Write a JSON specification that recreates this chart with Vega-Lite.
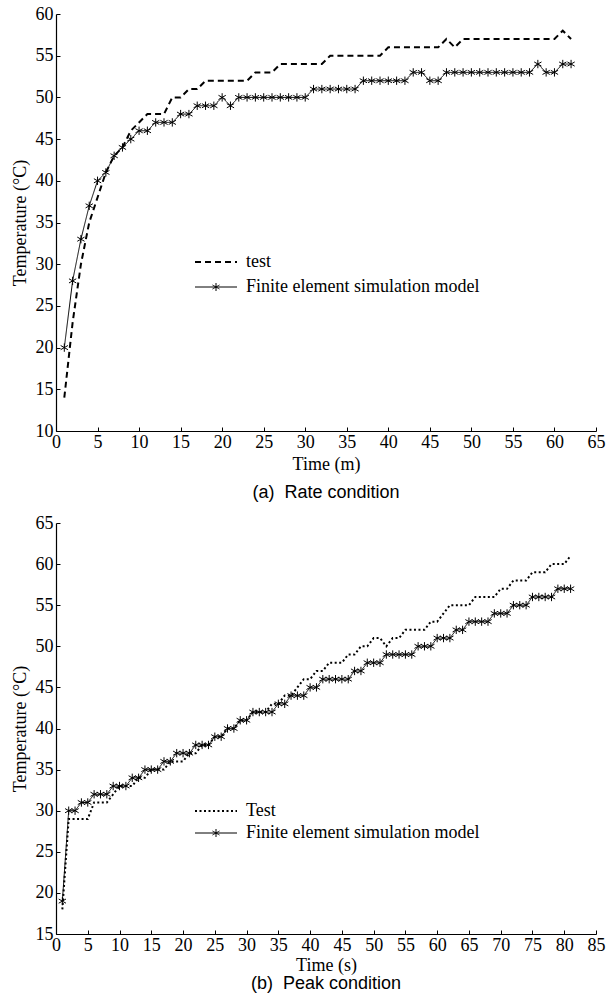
{
  "$schema": "https://vega.github.io/schema/vega-lite/v6.json",
  "padding": {"left": 11, "top": 5, "right": 4, "bottom": 2},
  "spacing": 12,
  "resolve": {"scale": {"strokeDash": "independent"}, "legend": {"strokeDash": "independent"}},
  "config": {
    "view": {"stroke": null},
    "font": "Liberation Serif",
    "axis": {
      "domainColor": "#000", "tickColor": "#000", "labelColor": "#000", "titleColor": "#000",
      "labelFont": "Liberation Serif", "titleFont": "Liberation Serif",
      "labelFontSize": 18, "titleFontSize": 18, "titleFontWeight": "normal", "labelFlush": false,
      "grid": false, "tickSize": -4, "domainWidth": 1.2, "tickWidth": 1
    },
    "axisX": {"labelPadding": 6},
    "axisY": {"labelPadding": 7},
    "title": {"font": "Liberation Sans", "fontSize": 18, "fontWeight": "normal", "color": "#000", "orient": "bottom", "anchor": "middle"},
    "legend": {
      "orient": "none", "title": null, "labelFont": "Liberation Serif", "labelFontSize": 18, "labelColor": "#000", "labelLimit": 0,
      "symbolSize": 100, "labelOffset": 21, "padding": 0, "symbolStrokeColor": "#000"
    }
  },
  "datasets": {
    "top": [
      {"t":1,"v":14,"s":"test"},{"t":2,"v":23,"s":"test"},{"t":3,"v":30,"s":"test"},{"t":4,"v":35,"s":"test"},{"t":5,"v":38,"s":"test"},
      {"t":6,"v":41,"s":"test"},{"t":7,"v":43,"s":"test"},{"t":8,"v":44,"s":"test"},{"t":9,"v":46,"s":"test"},{"t":10,"v":47,"s":"test"},
      {"t":11,"v":48,"s":"test"},{"t":12,"v":48,"s":"test"},{"t":13,"v":48,"s":"test"},{"t":14,"v":50,"s":"test"},{"t":15,"v":50,"s":"test"},
      {"t":16,"v":51,"s":"test"},{"t":17,"v":51,"s":"test"},{"t":18,"v":52,"s":"test"},{"t":19,"v":52,"s":"test"},{"t":20,"v":52,"s":"test"},
      {"t":21,"v":52,"s":"test"},{"t":22,"v":52,"s":"test"},{"t":23,"v":52,"s":"test"},{"t":24,"v":53,"s":"test"},{"t":25,"v":53,"s":"test"},
      {"t":26,"v":53,"s":"test"},{"t":27,"v":54,"s":"test"},{"t":28,"v":54,"s":"test"},{"t":29,"v":54,"s":"test"},{"t":30,"v":54,"s":"test"},
      {"t":31,"v":54,"s":"test"},{"t":32,"v":54,"s":"test"},{"t":33,"v":55,"s":"test"},{"t":34,"v":55,"s":"test"},{"t":35,"v":55,"s":"test"},
      {"t":36,"v":55,"s":"test"},{"t":37,"v":55,"s":"test"},{"t":38,"v":55,"s":"test"},{"t":39,"v":55,"s":"test"},{"t":40,"v":56,"s":"test"},
      {"t":41,"v":56,"s":"test"},{"t":42,"v":56,"s":"test"},{"t":43,"v":56,"s":"test"},{"t":44,"v":56,"s":"test"},{"t":45,"v":56,"s":"test"},
      {"t":46,"v":56,"s":"test"},{"t":47,"v":57,"s":"test"},{"t":48,"v":56,"s":"test"},{"t":49,"v":57,"s":"test"},{"t":50,"v":57,"s":"test"},
      {"t":51,"v":57,"s":"test"},{"t":52,"v":57,"s":"test"},{"t":53,"v":57,"s":"test"},{"t":54,"v":57,"s":"test"},{"t":55,"v":57,"s":"test"},
      {"t":56,"v":57,"s":"test"},{"t":57,"v":57,"s":"test"},{"t":58,"v":57,"s":"test"},{"t":59,"v":57,"s":"test"},{"t":60,"v":57,"s":"test"},
      {"t":61,"v":58,"s":"test"},{"t":62,"v":57,"s":"test"},
      {"t":1,"v":20,"s":"Finite element simulation model"},{"t":2,"v":28,"s":"Finite element simulation model"},{"t":3,"v":33,"s":"Finite element simulation model"},
      {"t":4,"v":37,"s":"Finite element simulation model"},{"t":5,"v":40,"s":"Finite element simulation model"},{"t":6,"v":41,"s":"Finite element simulation model"},
      {"t":7,"v":43,"s":"Finite element simulation model"},{"t":8,"v":44,"s":"Finite element simulation model"},{"t":9,"v":45,"s":"Finite element simulation model"},
      {"t":10,"v":46,"s":"Finite element simulation model"},{"t":11,"v":46,"s":"Finite element simulation model"},{"t":12,"v":47,"s":"Finite element simulation model"},
      {"t":13,"v":47,"s":"Finite element simulation model"},{"t":14,"v":47,"s":"Finite element simulation model"},{"t":15,"v":48,"s":"Finite element simulation model"},
      {"t":16,"v":48,"s":"Finite element simulation model"},{"t":17,"v":49,"s":"Finite element simulation model"},{"t":18,"v":49,"s":"Finite element simulation model"},
      {"t":19,"v":49,"s":"Finite element simulation model"},{"t":20,"v":50,"s":"Finite element simulation model"},{"t":21,"v":49,"s":"Finite element simulation model"},
      {"t":22,"v":50,"s":"Finite element simulation model"},{"t":23,"v":50,"s":"Finite element simulation model"},{"t":24,"v":50,"s":"Finite element simulation model"},
      {"t":25,"v":50,"s":"Finite element simulation model"},{"t":26,"v":50,"s":"Finite element simulation model"},{"t":27,"v":50,"s":"Finite element simulation model"},
      {"t":28,"v":50,"s":"Finite element simulation model"},{"t":29,"v":50,"s":"Finite element simulation model"},{"t":30,"v":50,"s":"Finite element simulation model"},
      {"t":31,"v":51,"s":"Finite element simulation model"},{"t":32,"v":51,"s":"Finite element simulation model"},{"t":33,"v":51,"s":"Finite element simulation model"},
      {"t":34,"v":51,"s":"Finite element simulation model"},{"t":35,"v":51,"s":"Finite element simulation model"},{"t":36,"v":51,"s":"Finite element simulation model"},
      {"t":37,"v":52,"s":"Finite element simulation model"},{"t":38,"v":52,"s":"Finite element simulation model"},{"t":39,"v":52,"s":"Finite element simulation model"},
      {"t":40,"v":52,"s":"Finite element simulation model"},{"t":41,"v":52,"s":"Finite element simulation model"},{"t":42,"v":52,"s":"Finite element simulation model"},
      {"t":43,"v":53,"s":"Finite element simulation model"},{"t":44,"v":53,"s":"Finite element simulation model"},{"t":45,"v":52,"s":"Finite element simulation model"},
      {"t":46,"v":52,"s":"Finite element simulation model"},{"t":47,"v":53,"s":"Finite element simulation model"},{"t":48,"v":53,"s":"Finite element simulation model"},
      {"t":49,"v":53,"s":"Finite element simulation model"},{"t":50,"v":53,"s":"Finite element simulation model"},{"t":51,"v":53,"s":"Finite element simulation model"},
      {"t":52,"v":53,"s":"Finite element simulation model"},{"t":53,"v":53,"s":"Finite element simulation model"},{"t":54,"v":53,"s":"Finite element simulation model"},
      {"t":55,"v":53,"s":"Finite element simulation model"},{"t":56,"v":53,"s":"Finite element simulation model"},{"t":57,"v":53,"s":"Finite element simulation model"},
      {"t":58,"v":54,"s":"Finite element simulation model"},{"t":59,"v":53,"s":"Finite element simulation model"},{"t":60,"v":53,"s":"Finite element simulation model"},
      {"t":61,"v":54,"s":"Finite element simulation model"},{"t":62,"v":54,"s":"Finite element simulation model"}
    ],
    "bottom": [
      {"t":1,"v":18,"s":"Test"},{"t":2,"v":29,"s":"Test"},{"t":3,"v":29,"s":"Test"},{"t":4,"v":29,"s":"Test"},{"t":5,"v":29,"s":"Test"},
      {"t":6,"v":31,"s":"Test"},{"t":7,"v":31,"s":"Test"},{"t":8,"v":31,"s":"Test"},{"t":9,"v":32,"s":"Test"},{"t":10,"v":33,"s":"Test"},
      {"t":11,"v":33,"s":"Test"},{"t":12,"v":33,"s":"Test"},{"t":13,"v":34,"s":"Test"},{"t":14,"v":34,"s":"Test"},{"t":15,"v":35,"s":"Test"},
      {"t":16,"v":35,"s":"Test"},{"t":17,"v":35,"s":"Test"},{"t":18,"v":36,"s":"Test"},{"t":19,"v":36,"s":"Test"},{"t":20,"v":36,"s":"Test"},
      {"t":21,"v":37,"s":"Test"},{"t":22,"v":37,"s":"Test"},{"t":23,"v":38,"s":"Test"},{"t":24,"v":38,"s":"Test"},{"t":25,"v":39,"s":"Test"},
      {"t":26,"v":39,"s":"Test"},{"t":27,"v":40,"s":"Test"},{"t":28,"v":40,"s":"Test"},{"t":29,"v":41,"s":"Test"},{"t":30,"v":41,"s":"Test"},
      {"t":31,"v":42,"s":"Test"},{"t":32,"v":42,"s":"Test"},{"t":33,"v":42,"s":"Test"},{"t":34,"v":43,"s":"Test"},{"t":35,"v":43,"s":"Test"},
      {"t":36,"v":44,"s":"Test"},{"t":37,"v":44,"s":"Test"},{"t":38,"v":45,"s":"Test"},{"t":39,"v":46,"s":"Test"},{"t":40,"v":46,"s":"Test"},
      {"t":41,"v":47,"s":"Test"},{"t":42,"v":47,"s":"Test"},{"t":43,"v":48,"s":"Test"},{"t":44,"v":48,"s":"Test"},{"t":45,"v":48,"s":"Test"},
      {"t":46,"v":49,"s":"Test"},{"t":47,"v":49,"s":"Test"},{"t":48,"v":50,"s":"Test"},{"t":49,"v":50,"s":"Test"},{"t":50,"v":51,"s":"Test"},
      {"t":51,"v":51,"s":"Test"},{"t":52,"v":50,"s":"Test"},{"t":53,"v":51,"s":"Test"},{"t":54,"v":51,"s":"Test"},{"t":55,"v":52,"s":"Test"},
      {"t":56,"v":52,"s":"Test"},{"t":57,"v":52,"s":"Test"},{"t":58,"v":52,"s":"Test"},{"t":59,"v":53,"s":"Test"},{"t":60,"v":53,"s":"Test"},
      {"t":61,"v":54,"s":"Test"},{"t":62,"v":55,"s":"Test"},{"t":63,"v":55,"s":"Test"},{"t":64,"v":55,"s":"Test"},{"t":65,"v":55,"s":"Test"},
      {"t":66,"v":56,"s":"Test"},{"t":67,"v":56,"s":"Test"},{"t":68,"v":56,"s":"Test"},{"t":69,"v":56,"s":"Test"},{"t":70,"v":57,"s":"Test"},
      {"t":71,"v":57,"s":"Test"},{"t":72,"v":58,"s":"Test"},{"t":73,"v":58,"s":"Test"},{"t":74,"v":58,"s":"Test"},{"t":75,"v":59,"s":"Test"},
      {"t":76,"v":59,"s":"Test"},{"t":77,"v":59,"s":"Test"},{"t":78,"v":60,"s":"Test"},{"t":79,"v":60,"s":"Test"},{"t":80,"v":60,"s":"Test"},
      {"t":81,"v":61,"s":"Test"},
      {"t":1,"v":19,"s":"Finite element simulation model"},{"t":2,"v":30,"s":"Finite element simulation model"},{"t":3,"v":30,"s":"Finite element simulation model"},
      {"t":4,"v":31,"s":"Finite element simulation model"},{"t":5,"v":31,"s":"Finite element simulation model"},{"t":6,"v":32,"s":"Finite element simulation model"},
      {"t":7,"v":32,"s":"Finite element simulation model"},{"t":8,"v":32,"s":"Finite element simulation model"},{"t":9,"v":33,"s":"Finite element simulation model"},
      {"t":10,"v":33,"s":"Finite element simulation model"},{"t":11,"v":33,"s":"Finite element simulation model"},{"t":12,"v":34,"s":"Finite element simulation model"},
      {"t":13,"v":34,"s":"Finite element simulation model"},{"t":14,"v":35,"s":"Finite element simulation model"},{"t":15,"v":35,"s":"Finite element simulation model"},
      {"t":16,"v":35,"s":"Finite element simulation model"},{"t":17,"v":36,"s":"Finite element simulation model"},{"t":18,"v":36,"s":"Finite element simulation model"},
      {"t":19,"v":37,"s":"Finite element simulation model"},{"t":20,"v":37,"s":"Finite element simulation model"},{"t":21,"v":37,"s":"Finite element simulation model"},
      {"t":22,"v":38,"s":"Finite element simulation model"},{"t":23,"v":38,"s":"Finite element simulation model"},{"t":24,"v":38,"s":"Finite element simulation model"},
      {"t":25,"v":39,"s":"Finite element simulation model"},{"t":26,"v":39,"s":"Finite element simulation model"},{"t":27,"v":40,"s":"Finite element simulation model"},
      {"t":28,"v":40,"s":"Finite element simulation model"},{"t":29,"v":41,"s":"Finite element simulation model"},{"t":30,"v":41,"s":"Finite element simulation model"},
      {"t":31,"v":42,"s":"Finite element simulation model"},{"t":32,"v":42,"s":"Finite element simulation model"},{"t":33,"v":42,"s":"Finite element simulation model"},
      {"t":34,"v":42,"s":"Finite element simulation model"},{"t":35,"v":43,"s":"Finite element simulation model"},{"t":36,"v":43,"s":"Finite element simulation model"},
      {"t":37,"v":44,"s":"Finite element simulation model"},{"t":38,"v":44,"s":"Finite element simulation model"},{"t":39,"v":44,"s":"Finite element simulation model"},
      {"t":40,"v":45,"s":"Finite element simulation model"},{"t":41,"v":45,"s":"Finite element simulation model"},{"t":42,"v":46,"s":"Finite element simulation model"},
      {"t":43,"v":46,"s":"Finite element simulation model"},{"t":44,"v":46,"s":"Finite element simulation model"},{"t":45,"v":46,"s":"Finite element simulation model"},
      {"t":46,"v":46,"s":"Finite element simulation model"},{"t":47,"v":47,"s":"Finite element simulation model"},{"t":48,"v":47,"s":"Finite element simulation model"},
      {"t":49,"v":48,"s":"Finite element simulation model"},{"t":50,"v":48,"s":"Finite element simulation model"},{"t":51,"v":48,"s":"Finite element simulation model"},
      {"t":52,"v":49,"s":"Finite element simulation model"},{"t":53,"v":49,"s":"Finite element simulation model"},{"t":54,"v":49,"s":"Finite element simulation model"},
      {"t":55,"v":49,"s":"Finite element simulation model"},{"t":56,"v":49,"s":"Finite element simulation model"},{"t":57,"v":50,"s":"Finite element simulation model"},
      {"t":58,"v":50,"s":"Finite element simulation model"},{"t":59,"v":50,"s":"Finite element simulation model"},{"t":60,"v":51,"s":"Finite element simulation model"},
      {"t":61,"v":51,"s":"Finite element simulation model"},{"t":62,"v":51,"s":"Finite element simulation model"},{"t":63,"v":52,"s":"Finite element simulation model"},
      {"t":64,"v":52,"s":"Finite element simulation model"},{"t":65,"v":53,"s":"Finite element simulation model"},{"t":66,"v":53,"s":"Finite element simulation model"},
      {"t":67,"v":53,"s":"Finite element simulation model"},{"t":68,"v":53,"s":"Finite element simulation model"},{"t":69,"v":54,"s":"Finite element simulation model"},
      {"t":70,"v":54,"s":"Finite element simulation model"},{"t":71,"v":54,"s":"Finite element simulation model"},{"t":72,"v":55,"s":"Finite element simulation model"},
      {"t":73,"v":55,"s":"Finite element simulation model"},{"t":74,"v":55,"s":"Finite element simulation model"},{"t":75,"v":56,"s":"Finite element simulation model"},
      {"t":76,"v":56,"s":"Finite element simulation model"},{"t":77,"v":56,"s":"Finite element simulation model"},{"t":78,"v":56,"s":"Finite element simulation model"},
      {"t":79,"v":57,"s":"Finite element simulation model"},{"t":80,"v":57,"s":"Finite element simulation model"},{"t":81,"v":57,"s":"Finite element simulation model"}
    ]
  },
  "vconcat": [
    {
      "width": 540, "height": 417,
      "title": {"text": "(a)\u00a0 Rate condition", "offset": 11},
      "data": {"name": "top"},
      "encoding": {
        "x": {"field": "t", "type": "quantitative", "scale": {"domain": [0, 65], "nice": false},
              "axis": {"values": [0,5,10,15,20,25,30,35,40,45,50,55,60,65], "title": "Time (m)", "titleFontSize": 18, "titleFontWeight": "normal", "titlePadding": 4}},
        "y": {"field": "v", "type": "quantitative", "scale": {"domain": [10, 60], "nice": false, "zero": false},
              "axis": {"values": [10,15,20,25,30,35,40,45,50,55,60], "title": "Temperature (°C)", "titleFontSize": 18, "titleFontWeight": "normal", "titlePadding": 6}}
      },
      "layer": [
        {
          "mark": {"type": "line", "color": "#000"},
          "encoding": {
            "strokeDash": {"field": "s", "type": "nominal",
              "scale": {"domain": ["test", "Finite element simulation model"], "range": [[6, 4], [1, 0]]},
              "legend": {"legendX": 151, "legendY": 239, "rowPadding": 7,
                "encode": {"symbols": {"update": {
                  "shape": {"signal": "datum.value == 'test' ? 'M-4.2,0L4.2,0' : 'M-4.2,0L4.2,0M0,-0.8L0,0.8M-0.7,-0.4L0.7,0.4M-0.7,0.4L0.7,-0.4'"},
                  "strokeWidth": {"signal": "datum.value == 'test' ? 2 : 1"},
                  "fill": {"value": "transparent"},
                  "stroke": {"value": "#000"}
                }}}}},
            "strokeWidth": {"condition": {"test": "datum.s == 'test'", "value": 2}, "value": 1}
          }
        },
        {
          "transform": [{"filter": "datum.s != 'test'"}],
          "mark": {"type": "point", "shape": "M0,-1L0,1M-0.87,-0.5L0.87,0.5M-0.87,0.5L0.87,-0.5", "filled": false, "stroke": "#000", "strokeWidth": 1, "size": 70, "opacity": 1}
        }
      ]
    },
    {
      "width": 540, "height": 411,
      "title": {"text": "(b)\u00a0 Peak condition", "offset": 1},
      "data": {"name": "bottom"},
      "encoding": {
        "x": {"field": "t", "type": "quantitative", "scale": {"domain": [0, 85], "nice": false},
              "axis": {"values": [0,5,10,15,20,25,30,35,40,45,50,55,60,65,70,75,80,85], "title": "Time (s)", "titleFontSize": 18, "titleFontWeight": "normal", "titlePadding": 2}},
        "y": {"field": "v", "type": "quantitative", "scale": {"domain": [15, 65], "nice": false, "zero": false},
              "axis": {"values": [15,20,25,30,35,40,45,50,55,60,65], "title": "Temperature (°C)", "titleFontSize": 18, "titleFontWeight": "normal", "titlePadding": 6}}
      },
      "layer": [
        {
          "mark": {"type": "line", "color": "#000"},
          "encoding": {
            "strokeDash": {"field": "s", "type": "nominal",
              "scale": {"domain": ["Test", "Finite element simulation model"], "range": [[2, 2.5], [1, 0]]},
              "legend": {"legendX": 151, "legendY": 279, "rowPadding": 4,
                "encode": {"symbols": {"update": {
                  "shape": {"signal": "datum.value == 'Test' ? 'M-4.2,0L4.2,0' : 'M-4.2,0L4.2,0M0,-0.8L0,0.8M-0.7,-0.4L0.7,0.4M-0.7,0.4L0.7,-0.4'"},
                  "strokeWidth": {"signal": "datum.value == 'Test' ? 2 : 1"},
                  "fill": {"value": "transparent"},
                  "stroke": {"value": "#000"}
                }}}}},
            "strokeWidth": {"condition": {"test": "datum.s == 'Test'", "value": 2}, "value": 1}
          }
        },
        {
          "transform": [{"filter": "datum.s != 'Test'"}],
          "mark": {"type": "point", "shape": "M0,-1L0,1M-0.87,-0.5L0.87,0.5M-0.87,0.5L0.87,-0.5", "filled": false, "stroke": "#000", "strokeWidth": 1, "size": 70, "opacity": 1}
        }
      ]
    }
  ]
}
